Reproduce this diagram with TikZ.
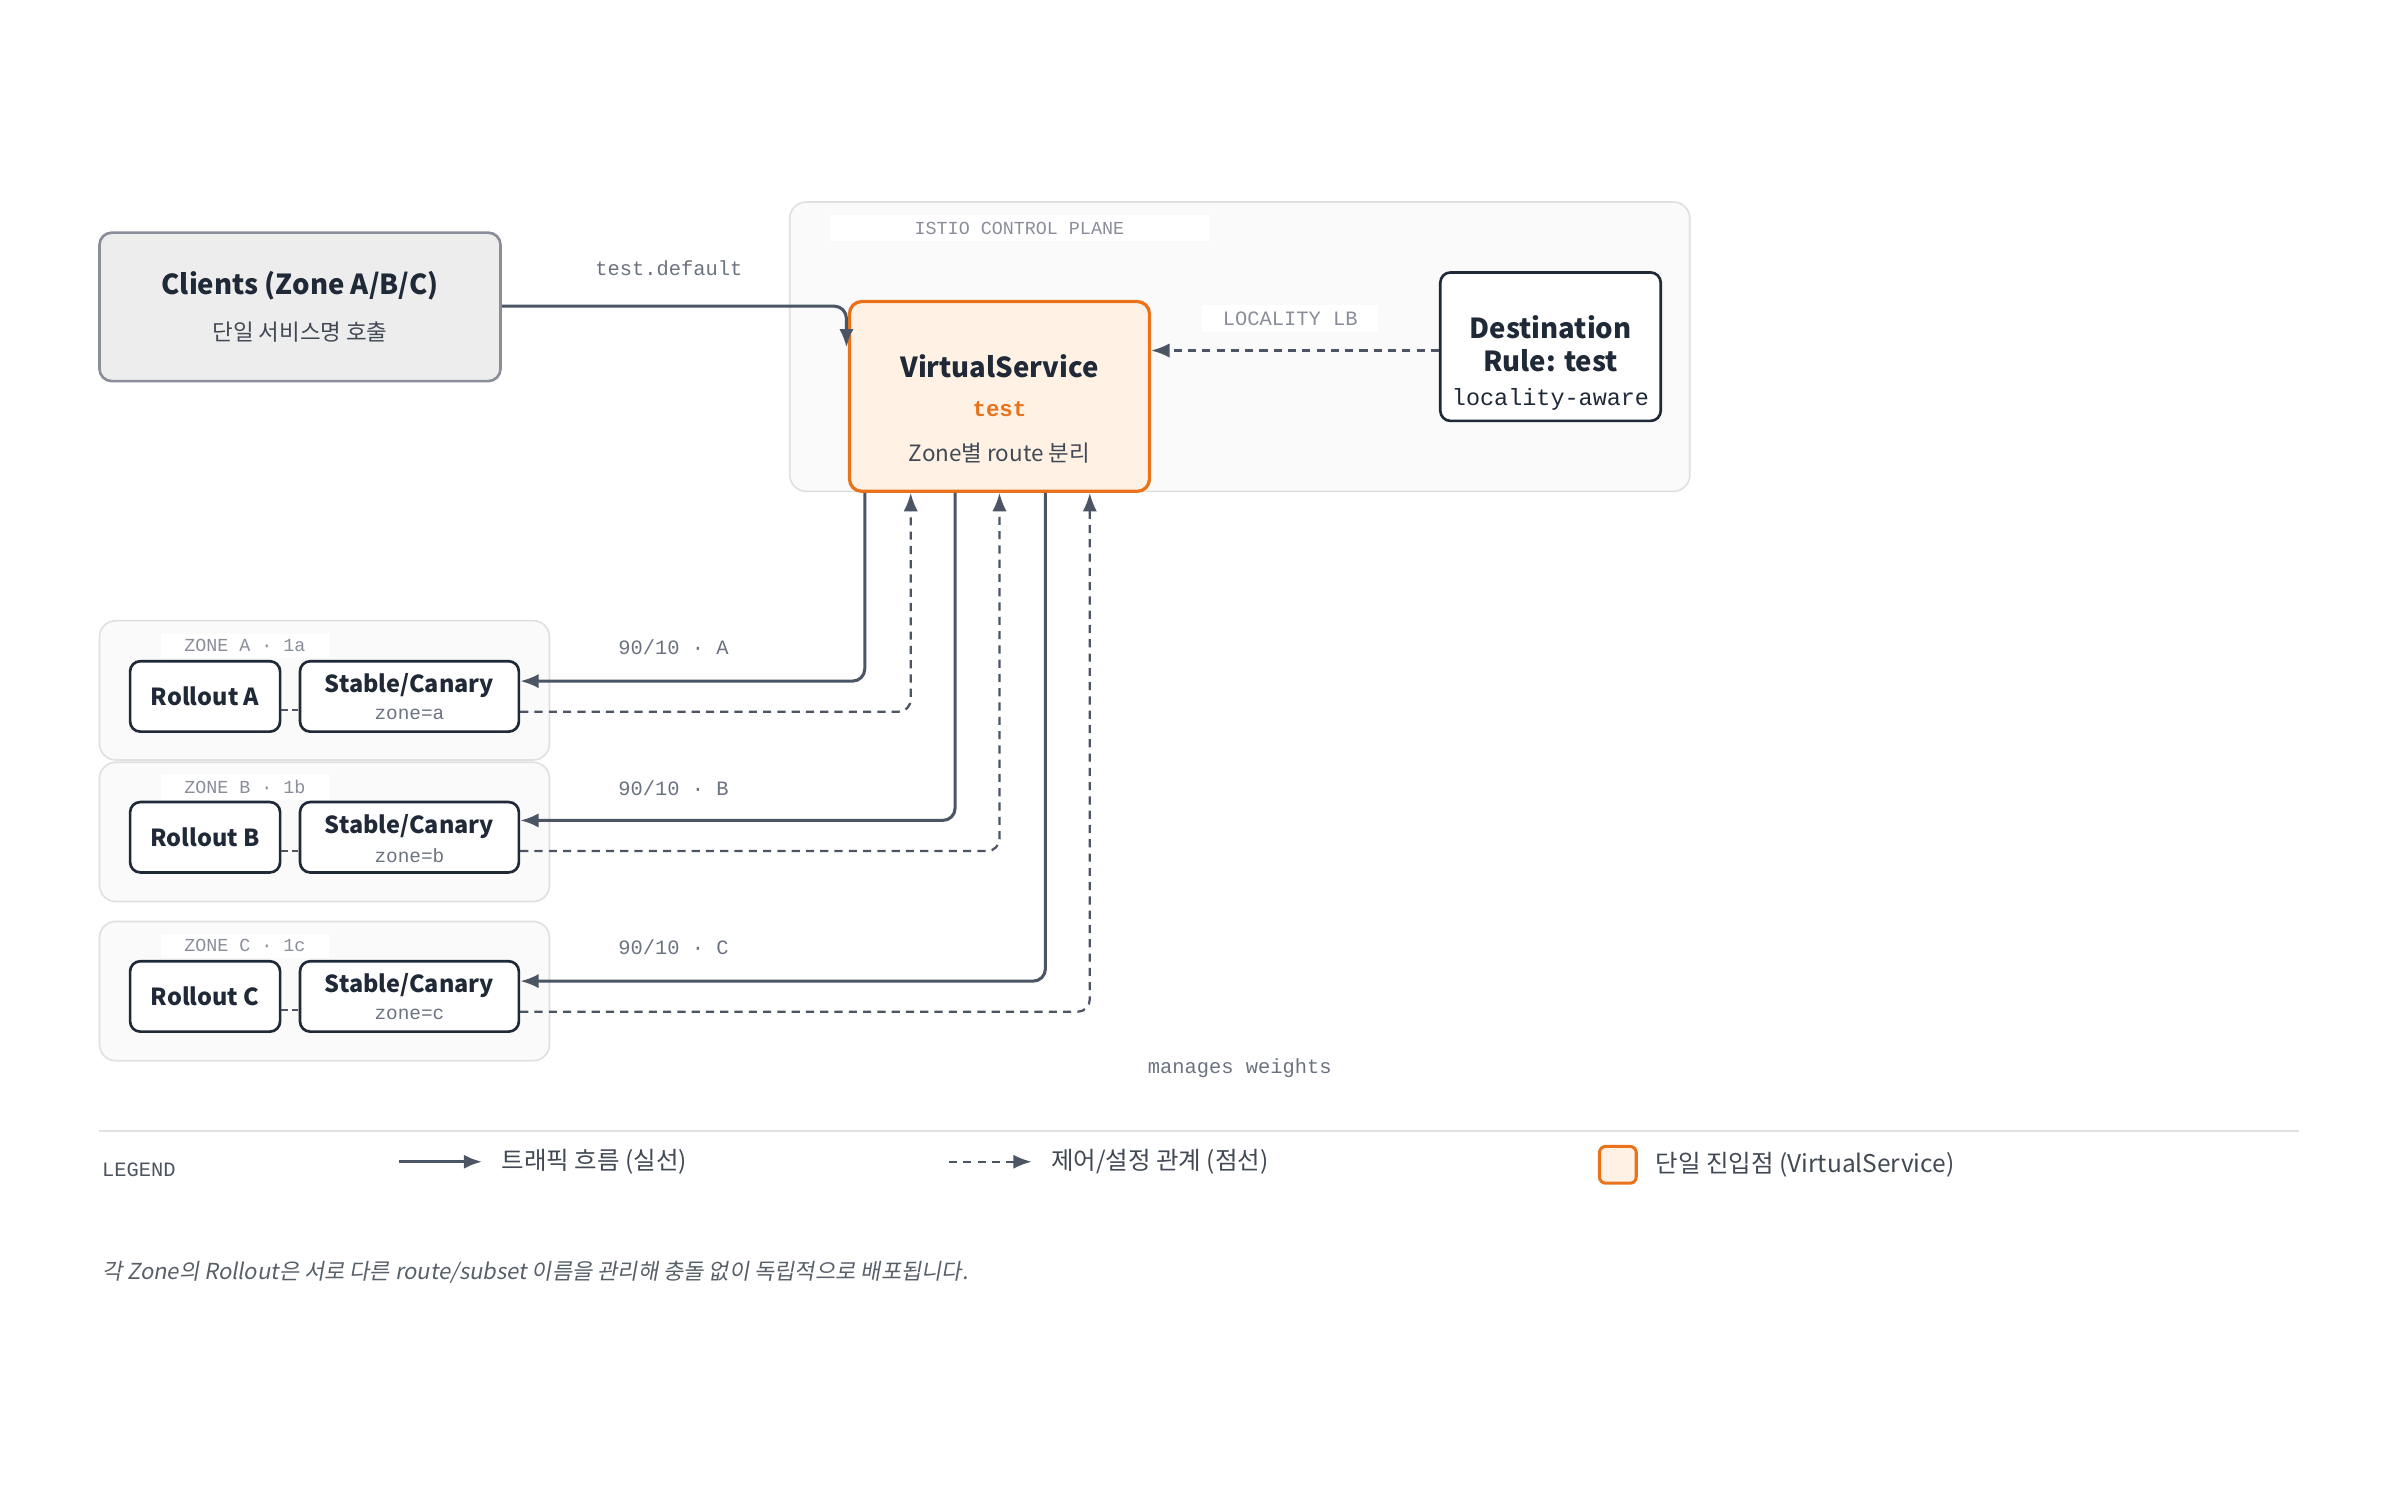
\documentclass[tikz,border=0pt]{standalone}
\usepackage{fontspec}
\setmainfont{Noto Sans CJK KR}
\newfontfamily\monof{Liberation Mono}
\newfontfamily\itf{Noto Sans CJK KR}[FakeSlant=0.18]
\usetikzlibrary{arrows.meta}
\definecolor{ink}{HTML}{1F2937}
\definecolor{edge}{HTML}{4B5563}
\definecolor{muted}{HTML}{6B7280}
\definecolor{orng}{HTML}{E8731A}
\tikzset{
 box/.style={draw=ink,line width=1.3pt,rounded corners=5pt,fill=white,inner sep=0pt},
 grp/.style={draw=black!12,fill=black!2,rounded corners=8pt,line width=0.8pt},
 tag/.style={fill=white,font=\monof\fontsize{9}{10}\selectfont,text=muted!80,inner sep=3pt},
 lbl/.style={font=\monof\fontsize{10}{11}\selectfont,text=muted},
 flow/.style={draw=edge,line width=1.5pt,rounded corners=6pt,-{Latex[length=9pt,width=7pt]}},
 ctrl/.style={draw=edge,line width=1.1pt,dashed,dash pattern=on 4pt off 3pt,rounded corners=6pt,-{Latex[length=9pt,width=7pt]}},
 ttl/.style={font=\bfseries\fontsize{13.5}{15}\selectfont,text=ink},
 sub/.style={font=\fontsize{11}{12}\selectfont,text=ink!85},
}
\begin{document}
\begin{tikzpicture}[x=0.75pt,y=-0.75pt]
\useasboundingbox (0,0) rectangle (1568,981);
% clients
\node[draw=muted!80,fill=black!7,line width=1.3pt,rounded corners=6pt,minimum width=262*0.75pt,minimum height=97*0.75pt] (cl) at (196,200.5) {};
\node[ttl] (clt) at (196,187) {Clients (Zone A/B/C)};
\node[sub] (cls) at (196,217) {단일 서비스명 호출};
% control plane
\node[grp,minimum width=588*0.75pt,minimum height=189*0.75pt] (cp) at (810,226.5) {};
\node[tag,minimum width=248*0.75pt,minimum height=17*0.75pt] (cpl) at (666,149) {ISTIO CONTROL PLANE};
\node[draw=orng,fill=orange!10,line width=1.6pt,rounded corners=6pt,minimum width=196*0.75pt,minimum height=124*0.75pt] (vs) at (653,259) {};
\node[ttl] at (653,239) {VirtualService};
\node[font=\monof\bfseries\fontsize{11}{12}\selectfont,text=orng] at (653,267) {test};
\node[sub] at (653,296) {Zone별 route 분리};
\node[box,minimum width=144*0.75pt,minimum height=97*0.75pt] (dr) at (1013,226.5) {};
\node[ttl,align=center] at (1013,224.5) {Destination\\[1pt]Rule: test};
\node[font=\monof\fontsize{11.5}{13}\selectfont,text=ink] at (1013,261) {locality-aware};
\node[tag,font=\monof\fontsize{10}{11}\selectfont,minimum width=115*0.75pt,minimum height=18*0.75pt] (llb) at (843,208) {LOCALITY LB};
\draw[ctrl] (dr.west|-0,229) -- (vs.east|-0,229);
\node[lbl] at (437,175) {test.default};
\coordinate (vin) at (553,227);
\draw[flow] (cl.east|-0,200) -| (vin);
% zones
\foreach \z/\yc in {A/451,B/543.5,C/647.5}{
 \node[grp,minimum width=294*0.75pt,minimum height=91*0.75pt] (g\z) at (212,\yc) {};
}
\foreach \z/\yt/\zn/\zz in {A/406/1a/a,B/498/1b/b,C/602/1c/c}{
 \node[tag,minimum width=110*0.75pt,minimum height=15*0.75pt] (t\z) at (160,\yt+16) {ZONE \z\ · \zn};
 \node[box,minimum width=98*0.75pt,minimum height=46*0.75pt] (r\z) at (134,\yt+49) {};
 \node[font=\bfseries\fontsize{11.5}{13}\selectfont,text=ink] at (134,\yt+49) {Rollout \z};
 \node[box,minimum width=143*0.75pt,minimum height=46*0.75pt] (s\z) at (267.5,\yt+49) {};
 \node[font=\bfseries\fontsize{11.5}{13}\selectfont,text=ink] at (267.5,\yt+42) {Stable/Canary};
 \node[font=\monof\fontsize{9.5}{11}\selectfont,text=muted] at (267.5,\yt+61) {zone=\zz};
 \draw[draw=edge,line width=1.1pt,dash pattern=on 3pt off 2pt] (r\z.east|-0,\yt+58) -- (s\z.west|-0,\yt+58);
 \node[lbl] at (440,\yt+17) {90/10 · \z};
}
\draw[flow] (vs.south-|565,0) |- (sA.east|-0,445);
\draw[flow] (vs.south-|624,0) |- (sB.east|-0,536);
\draw[flow] (vs.south-|683,0) |- (sC.east|-0,641);
\draw[ctrl] (sA.east|-0,465) -| (vs.south-|595,0);
\draw[ctrl] (sB.east|-0,556) -| (vs.south-|653,0);
\draw[ctrl] (sC.east|-0,661) -| (vs.south-|712,0);
\node[lbl] at (810,698) {manages weights};
% legend
\coordinate (l0) at (65,739); \coordinate (l1) at (1502,739);
\draw[black!12,line width=0.8pt] (l0) -- (l1);
\node[font=\monof\fontsize{10}{11}\selectfont,text=ink!80,anchor=west] (lg) at (62,764) {LEGEND};
\coordinate (a0) at (261,759); \coordinate (a1) at (315,759);
\draw[flow] (a0) -- (a1);
\node[font=\fontsize{12}{13}\selectfont,text=ink!85,anchor=west] (lt1) at (323,759) {트래픽 흐름 (실선)};
\coordinate (b0) at (620,759); \coordinate (b1) at (674,759);
\draw[ctrl] (b0) -- (b1);
\node[font=\fontsize{12}{13}\selectfont,text=ink!85,anchor=west] (lt2) at (682,759) {제어/설정 관계 (점선)};
\node[draw=orng,fill=orange!10,line width=1.5pt,rounded corners=3pt,minimum size=24*0.75pt] (sq) at (1057,761) {};
\node[font=\fontsize{12}{13}\selectfont,text=ink!85,anchor=west] (lt3) at (1077,761) {단일 진입점 (VirtualService)};
\node[font=\itf\fontsize{10.8}{12}\selectfont,text=ink!75,anchor=west] (fn) at (62,831) {각 Zone의 Rollout은 서로 다른 route/subset 이름을 관리해 충돌 없이 독립적으로 배포됩니다.};
\end{tikzpicture}
\end{document}
